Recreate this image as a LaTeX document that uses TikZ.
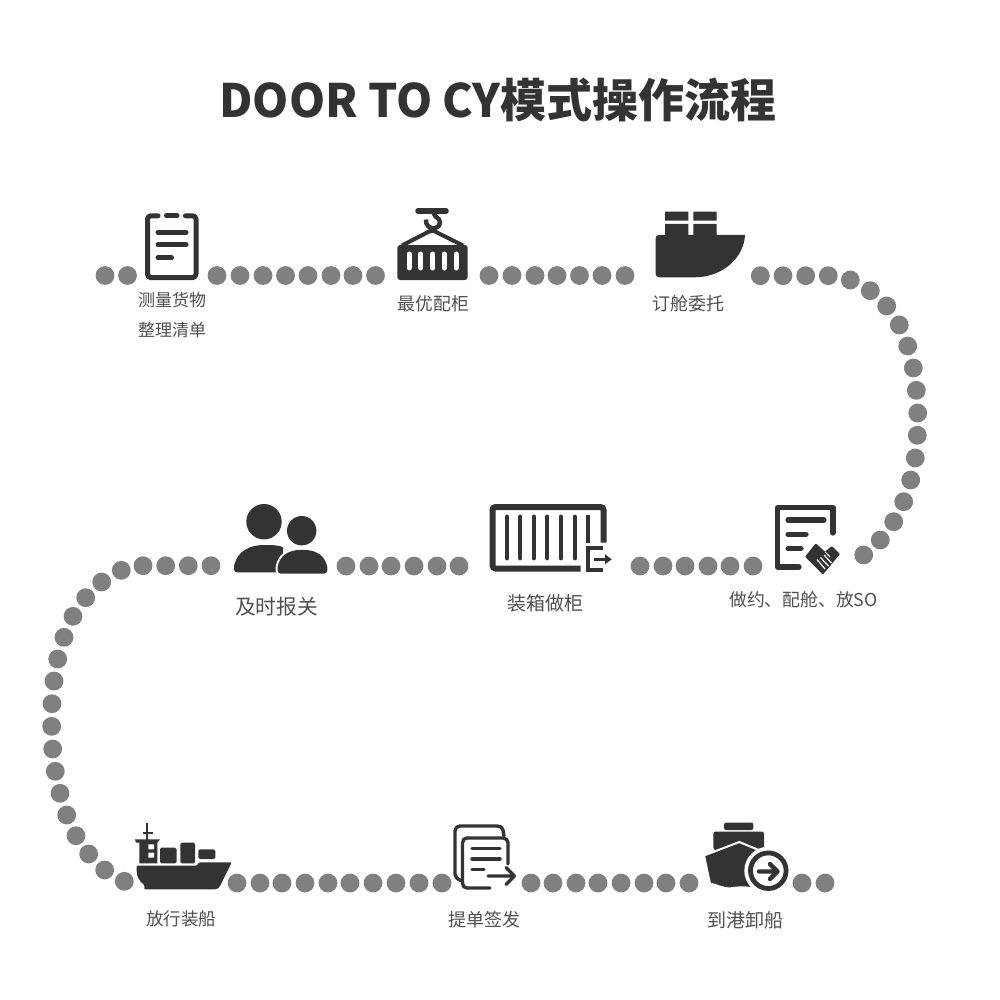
\documentclass[tikz,border=0pt]{standalone}
\usepackage{fontspec}
\setmainfont{Noto Sans CJK SC}
\definecolor{ink}{HTML}{333333}
\definecolor{dotc}{HTML}{808080}
\definecolor{lab}{HTML}{505050}
\tikzset{
  ic/.style={fill=ink,draw=none},
  ln/.style={draw=ink,line width=#1,line cap=round,line join=round},
  ln/.default=4.5pt,
  wt/.style={fill=white,draw=none},
  lbl/.style={text=lab,inner sep=0pt,font=\fontsize{#1}{#1}\selectfont}
}
\begin{document}
\begin{tikzpicture}[x=1pt,y=-1pt]
\useasboundingbox (0,0) rectangle (1000,1000);
\fill[white] (0,0) rectangle (1000,1000);
% title
\node[text=ink,inner sep=0pt,font=\fontsize{46}{46}\bfseries\selectfont] (title) at (498,100) {DOOR TO CY模式操作流程};
% dots
\foreach \x/\y in {105/275.5,127.5/275.5,217/275.5,240/275.5,263/275.5,285.5/275.5,308/275.5,331/275.5,353/275.5,375.5/275.5,
 489/275.5,512/275.5,535/275.5,557/275.5,579.5/275.5,602/275.5,625/275.5,
 760.3/275.7,783/275.7,805.7/275.7,828.3/275.7,850.3/280,870.3/290.7,886.7/306,899.3/325,907.7/346,913.3/368,916.3/390.3,917.7/413,917.3/435.3,915.3/458,910.7/480,903.7/501.7,893.7/521.7,880.3/540,863.7/555,
 640/566,663/566,685/566,708/566,730/566,753/566,
 346/566,369/566,391/566,414/566,437/566,459/566,
 143/565.7,165.7/565.7,188.3/565.7,211/565.7,121.3/570.3,101.7/582,85.7/597.7,73/616.3,64/637.3,57.7/659,54/681,52/703.7,51.7/726.3,52.7/749,55.3/771.3,60/793.3,66.7/815,76/835.7,88.7/854,104.7/870,124.3/881.3,
 237/883,260/883,282/883,305/883,328/883,350/883,373/883,396/883,419/883,442/883,
 531/883,553/883,576/883,598/883,621/883,644/883,666/883,689/883,802/883,825/883}
 {\fill[dotc] (\x,\y) circle[radius=9.4];}
% labels
\node[lbl=17] (a1) at (172,300) {测量货物};
\node[lbl=17] (a1b) at (172,330) {整理清单};
\node[lbl=17.8] (a2) at (433.5,303.5) {最优配柜};
\node[lbl=18] (a3) at (688,304) {订舱委托};
\node[lbl=17.8] (b3) at (803.5,599.5) {做约、配舱、放SO};
\node[lbl=19] (b2) at (545,603) {装箱做柜};
\node[lbl=20.7] (b1) at (276.5,607) {及时报关};
\node[lbl=17.5] (c1) at (181,918.5) {放行装船};
\node[lbl=18] (c2) at (484,920) {提单签发};
\node[lbl=19] (c3) at (745,920.5) {到港卸船};
% icon 1 clipboard
\draw[ln=5pt] (158,215.8) -- (151,215.8) to[out=180,in=90] (147.5,219) -- (147.5,274) to[out=-90,in=180] (151,277.7) -- (192.5,277.7) to[out=0,in=-90] (196,274) -- (196,219) to[out=90,in=0] (192.5,215.8) -- (185.5,215.8);
\draw[ln=5pt] (166.5,215.8) -- (177,215.8);
\draw[ln=5pt] (158,232.3) -- (186,232.3) (158,244.7) -- (186,244.7) (158,257.7) -- (171.5,257.7);
% icon 2 crane container
\draw[ln=5.5pt] (418,211) -- (446,211);
\draw[ln=4.4pt,line cap=butt] (433,212) -- (435.5,216.5) .. controls (441.5,219) and (441.5,226.5) .. (435.5,228) .. controls (430,229.5) and (425,225) .. (426,219.5);
\draw[ln=4pt,line cap=butt] (430.5,228) -- (432,233) (402,245.5) -- (432,230) -- (463,245.5);
\fill[ic,rounded corners=3pt] (397.3,245) rectangle (467.7,280);
\foreach \x in {409,420.7,432.7,444.3,456}
 \draw[white,line width=5pt,line cap=round] (\x,254) -- (\x,268);
% icon 3 ship
\fill[ic] (665,211.7) rectangle (688.3,220.7) (693.3,211.7) rectangle (716.7,220.7)
 (665,224) rectangle (688.3,236) (693.3,224) rectangle (716.7,236);
\fill[ic] (659,235) -- (745,235) .. controls (744,258) and (722,277.3) .. (695,277.3) -- (659,277.3) .. controls (657,277.3) and (655.7,276) .. (655.7,274) -- (655.7,238.3) .. controls (655.7,236.3) and (657,235) .. (659,235) -- cycle;
% icon 4 contract
\draw[ln=5.2pt] (833,533) -- (833,507.5) -- (777.7,507.5) -- (777.7,567) -- (799,567);
\draw[ln=5.2pt] (788,520) -- (824,520) (788,534.3) -- (806,534.3) (788,548.7) -- (801,548.7);
\fill[ic,rounded corners=1pt] (805,556.7) -- (815.7,543.3) -- (825,551.7) -- (831.7,546) -- (840,554) -- (823,574.5) -- cycle;
\draw[white,line width=1.2pt] (817,559.5) -- (825,569) (820.5,557.5) -- (828.5,566) (824,555) -- (831.5,563);
\draw[white,line width=1pt] (825,551.7) -- (830,557);
% icon 5 container with exit
\draw[draw=ink,line width=6pt,rounded corners=3pt,line cap=butt] (603.5,542.7) -- (603.5,507) -- (492.5,507) -- (492.5,568.5) -- (580.7,568.5);
\foreach \x in {507,520.3,533.7,547.3,561,574.7}
 \draw[draw=ink,line width=3.8pt,line cap=round] (\x,516.5) -- (\x,558.5);
\draw[draw=ink,line width=3.8pt,line cap=butt] (588.3,515) -- (588.3,542.7);
\draw[draw=ink,line width=4pt,line cap=butt] (603.3,548.3) -- (587.5,548.3) -- (587.5,570) -- (603.3,570);
\draw[draw=ink,line width=2.8pt,line cap=butt] (594,559.3) -- (606,559.3);
\fill[ic] (605,554.3) -- (611.7,559.3) -- (605,564.3) -- cycle;
% icon 6 persons
\fill[ic] (264,521.7) circle[radius=17.7] (301.7,530.7) circle[radius=14.7];
\fill[ic] (237,572.3) .. controls (233.5,572.3) and (233.5,568) .. (234.5,564) .. controls (238,551) and (250,545) .. (264,545) .. controls (272,545) and (280,545) .. (283,547.5) -- (283,572.3) -- cycle;
\path[fill=ink,draw=white,line width=4pt] (280.5,573.6) .. controls (277,573.6) and (277,568) .. (278.5,563.5) .. controls (282,553) and (292,549.8) .. (302,549.8) .. controls (313,549.8) and (323,553) .. (326.5,564) .. controls (328,568) and (328,573.6) .. (324,573.6) -- cycle;
\fill[ic] (280.5,573.6) .. controls (277,573.6) and (277,568) .. (278.5,563.5) .. controls (282,553) and (292,549.8) .. (302,549.8) .. controls (313,549.8) and (323,553) .. (326.5,564) .. controls (328,568) and (328,573.6) .. (324,573.6) -- cycle;
\fill[white] (232,574.4) rectangle (330,580);
% icon 7 cargo ship
\draw[ink,line width=2pt] (147.3,823.3) -- (147.3,840) (142.7,833.3) -- (153.3,833.3);
\fill[ic] (135,839.3) -- (160,839.3) -- (157.3,842.7) -- (157.3,863.3) -- (139.3,863.3) -- (139.3,842.7) -- (136,842.7) -- cycle;
\fill[white] (148.3,844.3) rectangle (154,849.3) (148.3,852.7) rectangle (154,857.7);
\fill[ic,rounded corners=1.5pt] (160,847.7) rectangle (176.7,863.3) (180.3,842.7) rectangle (195,863.3) (198.3,849.3) rectangle (215.3,859);
\fill[ic,rounded corners=1pt] (136.7,865.7) -- (196.7,865.7) -- (199.3,862.3) -- (231.7,862.3) -- (221,884) .. controls (219.5,887.5) and (218,889.3) .. (214,889.3) -- (144.3,889.3) -- (144.3,885) .. controls (139,881) and (136.7,876) .. (136.7,870) -- cycle;
% icon 8 documents
\draw[ln=3.4pt] (504,836) -- (503,830) .. controls (502.5,827) and (500,826) .. (497,826) -- (460,826) .. controls (457,826) and (455,828) .. (455,831) -- (455,874) .. controls (455,877) and (457,879) .. (461,880.5);
\draw[ln=3.4pt] (490,888) -- (467,888) .. controls (464,888) and (462.5,886) .. (462.5,883) -- (462.5,843) .. controls (462.5,840) and (464,838) .. (467,838) -- (503,838) .. controls (506,838) and (508,840) .. (508,843) -- (508,864);
\draw[ln=3.4pt] (472,848.3) -- (500,848.3) (472,859) -- (500,859) (472,869.3) -- (484,869.3);
\draw[ln=3.4pt] (488,876) -- (514.5,876) (506,867.5) -- (514.5,876) -- (506,884.5);
% icon 9 ship with arrow
\fill[ic,rounded corners=2pt] (724,830) -- (724,822.7) -- (753.3,822.7) -- (753.3,830) -- cycle;
\fill[ic,rounded corners=2pt] (713.3,850) -- (713.3,831.7) -- (764,831.7) -- (764,853) -- cycle;
\path[fill=ink,draw=white,line width=2pt,line join=miter] (704,855.5) -- (739.3,842) -- (766,853) -- (766,890) -- (752,888.5) .. controls (742,886) and (735,888) .. (729,888.5) .. controls (722,888) and (716,885) .. (712,884) -- (710.5,886) -- cycle;
\fill[white] (768.3,870.7) circle[radius=24];
\draw[ink,line width=4.8pt] (768.3,870.7) circle[radius=17.8];
\draw[ln=4.4pt] (759,871.5) -- (777.5,871.5) (770,864) -- (777.5,871.5) -- (770,879);
\end{tikzpicture}
\end{document}
